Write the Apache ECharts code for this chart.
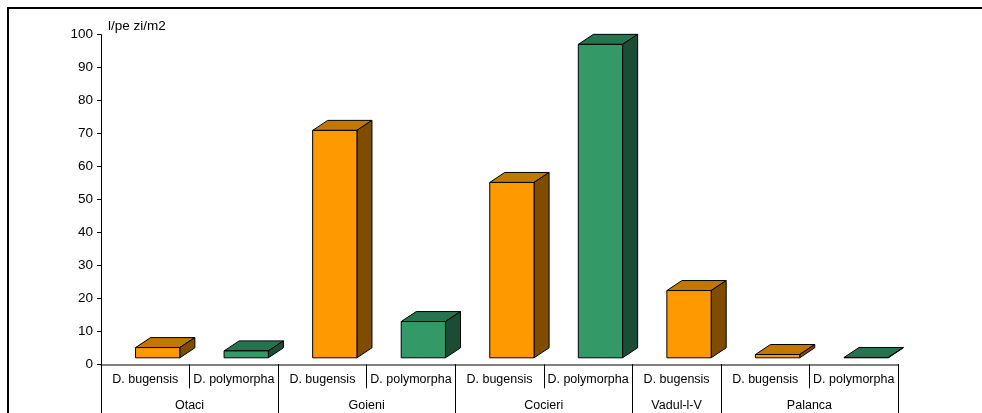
<!DOCTYPE html>
<html>
<head>
<meta charset="utf-8">
<script src="https://cdn.jsdelivr.net/npm/echarts@6/dist/echarts.min.js"></script>
<style>
  html, body { margin: 0; padding: 0; background: #fff; }
  #chart { width: 982px; height: 413px; }
</style>
</head>
<body>
<div id="chart"></div>
<script>
// Daily filtration rate (l/pe zi/m2) of Dreissena species by site
const sites = ['Otaci', 'Goieni', 'Cocieri', 'Vadul-l-V', 'Palanca'];
const siteSpan = [2, 2, 2, 1, 2];
const species = ['D. bugensis', 'D. polymorpha', 'D. bugensis', 'D. polymorpha',
                 'D. bugensis', 'D. polymorpha', 'D. bugensis', 'D. bugensis', 'D. polymorpha'];
const values = [3.1, 2.1, 69.0, 11.0, 53.2, 95.1, 20.4, 1.0, 0.1];
const yTicks = [0, 10, 20, 30, 40, 50, 60, 70, 80, 90, 100];
const yTitle = 'l/pe zi/m2';

// face colours: front, top, side
const palette = {
  'D. bugensis': ['#FF9900', '#C07800', '#7F4C00'],
  'D. polymorpha': ['#339966', '#267350', '#1B4D34']
};

// group boundaries and centres on a 0..N scale for the site axis
const boundaries = [0];
const centres = [];
siteSpan.forEach((n, i) => {
  const start = boundaries[boundaries.length - 1];
  centres.push(start + n / 2);
  boundaries.push(start + n);
});

const font = 'Liberation Sans, Arial, sans-serif';

function renderBar(params, api) {
  const idx = api.value(0);
  const v = api.value(1);
  const top = api.coord([idx, v]);
  const base = api.coord([idx, 0]);
  const band = api.size([1, 0])[0];
  const lift = 6.5;                 // bars stand slightly back on the floor
  const w = band * 0.5;
  const x0 = top[0] - band * 0.11;
  const x1 = x0 + w;
  const y0 = base[1] - lift;
  const y1 = top[1] - lift;
  const dx = band * 0.17, dy = -10;
  const cols = palette[species[idx]];
  const stroke = { stroke: '#000', lineWidth: 1 };
  return {
    type: 'group',
    children: [
      { type: 'polygon', shape: { points: [[x0, y1], [x1, y1], [x1 + dx, y1 + dy], [x0 + dx, y1 + dy]] },
        style: Object.assign({ fill: cols[1] }, stroke) },
      { type: 'polygon', shape: { points: [[x1, y0], [x1 + dx, y0 + dy], [x1 + dx, y1 + dy], [x1, y1]] },
        style: Object.assign({ fill: cols[2] }, stroke) },
      { type: 'polygon', shape: { points: [[x0, y0], [x1, y0], [x1, y1], [x0, y1]] },
        style: Object.assign({ fill: cols[0] }, stroke) }
    ]
  };
}

const chart = echarts.init(document.getElementById('chart'), null, { renderer: 'canvas' });
chart.setOption({
  animation: false,
  backgroundColor: '#fff',
  textStyle: { fontFamily: font },
  graphic: [{
    type: 'rect', silent: true, z: -1,
    shape: { x: 8, y: 8, width: 1100, height: 600 },
    style: { fill: 'none', stroke: '#000', lineWidth: 2 }
  }],
  grid: { left: 101, right: 84, top: 34.7, bottom: 48.7, containLabel: false },
  xAxis: [{
    type: 'category',
    data: species,
    position: 'bottom',
    axisLine: { show: true, lineStyle: { color: '#555', width: 1.5 } },
    axisTick: { show: true, inside: false, length: 24, lineStyle: { color: '#000' } },
    axisLabel: { show: true, color: '#000', fontSize: 12.5, margin: 9, interval: 0, fontFamily: font },
    splitLine: { show: false }
  }, {
    type: 'value',
    min: 0, max: species.length,
    position: 'bottom',
    axisLine: { show: false },
    axisTick: { show: true, length: 60, customValues: boundaries, lineStyle: { color: '#000' } },
    axisLabel: {
      show: true, color: '#000', fontSize: 12.5, margin: 35, fontFamily: font,
      customValues: centres,
      formatter: (val) => {
        const i = centres.findIndex(c => Math.abs(c - val) < 1e-6);
        return i >= 0 ? sites[i] : '';
      }
    },
    splitLine: { show: false }
  }],
  yAxis: {
    type: 'value',
    min: yTicks[0], max: yTicks[yTicks.length - 1], interval: 10,
    name: yTitle,
    nameLocation: 'end',
    nameGap: 1,
    nameTextStyle: { color: '#000', fontSize: 13.5, align: 'left', verticalAlign: 'bottom', padding: [0, 0, 0, 7], fontFamily: font },
    axisLine: { show: true, lineStyle: { color: '#000', width: 1 } },
    axisTick: { show: true, length: 4, lineStyle: { color: '#000' } },
    axisLabel: { color: '#000', fontSize: 13.5, margin: 8, fontFamily: font },
    splitLine: { show: false }
  },
  series: [{
    type: 'custom',
    xAxisIndex: 0,
    renderItem: renderBar,
    data: values.map((v, i) => [i, v]),
    clip: false
  }]
});
</script>
</body>
</html>
